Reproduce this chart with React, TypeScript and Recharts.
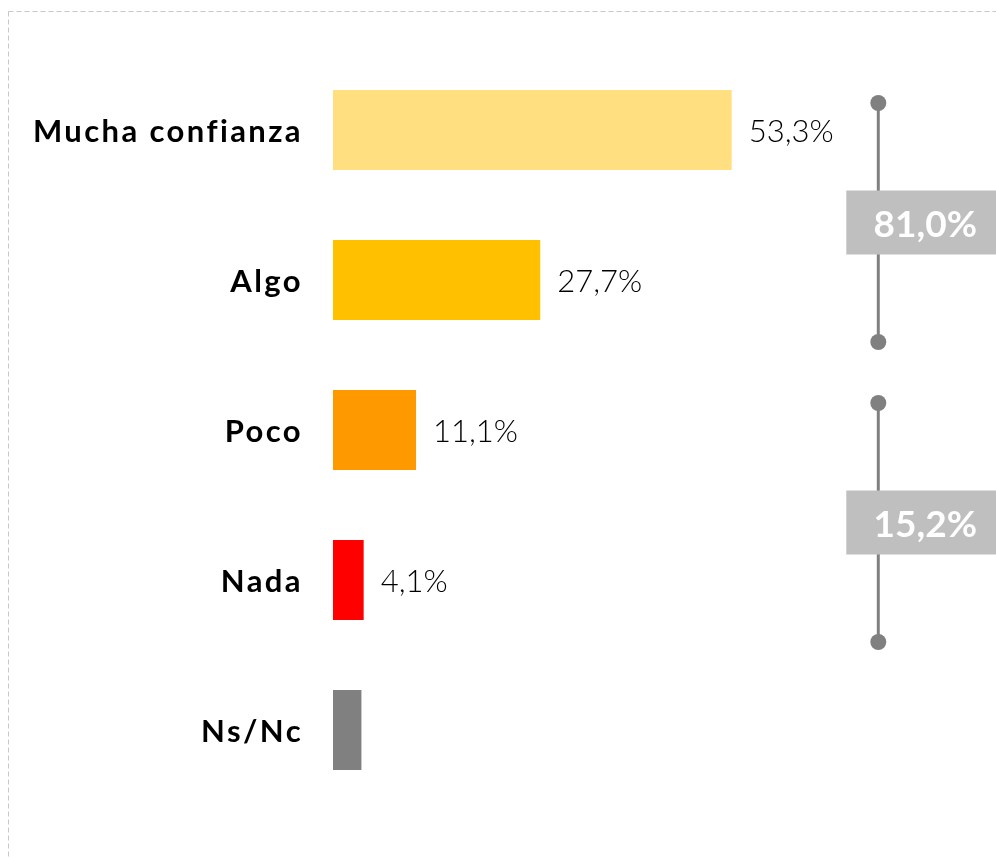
import React from "react";
import { BarChart, Bar, XAxis, YAxis, LabelList, ReferenceLine, Cell } from "recharts";

const categories = ["Mucha confianza", "Algo", "Poco", "Nada", "Ns/Nc"];
const values = [53.3, 27.7, 11.1, 4.1, 3.8];
const showValue = [true, true, true, true, false];
const colors = ["#FFDF7F", "#FFC000", "#FF9900", "#FF0000", "#808080"];

// bracket groups: summed percentages shown in grey boxes
const bracketFrom = ["Mucha confianza", "Poco"];
const bracketTo = ["Algo", "Nada"];
const bracketTotals = ["81,0%", "15,2%"];
const bracketX = 72.9;

const data = categories.map((name, i) => ({ name, value: values[i], show: showValue[i] }));

const GREY = "#808080";

const fmt = (v: number) => `${v.toFixed(1).replace(".", ",")}%`;

const CategoryTick = (props: any) => {
  const { x, y, payload } = props;
  return (
    <text
      x={x}
      y={y}
      textAnchor="end"
      dominantBaseline="central"
      fontFamily="Lato, sans-serif"
      fontWeight={700}
      fontSize={31}
      letterSpacing={2.4}
      fill="#000"
    >
      {payload.value}
    </text>
  );
};

const BracketShape = (label: string) => (props: any) => {
  const { x1, y1, y2 } = props;
  const top = y1 - 27;
  const bottom = y2 + 62;
  const mid = (top + bottom) / 2;
  return (
    <g>
      <line x1={x1} x2={x1} y1={top} y2={bottom} stroke={GREY} strokeWidth={3} />
      <circle cx={x1} cy={top} r={8} fill={GREY} />
      <circle cx={x1} cy={bottom} r={8} fill={GREY} />
      <rect x={x1 - 32} y={mid - 32} width={170} height={64} fill="#BFBFBF" />
      <text
        x={x1 + 47}
        y={mid}
        textAnchor="middle"
        dominantBaseline="central"
        fontFamily="Lato, sans-serif"
        fontWeight={700}
        fontSize={37}
        fill="#fff"
      >
        {label}
      </text>
    </g>
  );
};

export default function App() {
  return (
    <div style={{ position: "fixed", left: 8, top: 8, width: 988, height: 850, overflow: "hidden" }}>
      <svg width={988} height={850} style={{ position: "absolute", left: 0, top: 0 }}>
        <line x1={0.5} y1={3.5} x2={988} y2={3.5} stroke="#C8C8C8" strokeDasharray="5 3" />
        <line x1={0.5} y1={3.5} x2={0.5} y2={850} stroke="#C8C8C8" strokeDasharray="5 3" />
      </svg>
      <div style={{ position: "absolute", left: 0, top: 0 }}>
        <BarChart
          width={1080}
          height={850}
          data={data}
          layout="vertical"
          margin={{ top: 47, right: 7, bottom: 53, left: 25 }}
          barCategoryGap={70}
        >
          <XAxis type="number" domain={[0, 100]} hide />
          <YAxis
            type="category"
            dataKey="name"
            width={300}
            axisLine={false}
            tickLine={false}
            tick={<CategoryTick />}
            tickMargin={24}
          />
          <Bar dataKey="value" barSize={80} isAnimationActive={false}>
            {data.map((d, i) => (
              <Cell key={d.name} fill={colors[i]} />
            ))}
            <LabelList
              dataKey="value"
              position="right"
              offset={18}
              content={(p: any) => {
                const d = data[p.index];
                if (!d || !d.show) return null;
                return (
                  <text
                    x={p.x + p.width + 17}
                    y={p.y + p.height / 2}
                    dominantBaseline="central"
                    fontFamily="Lato, sans-serif"
                    fontWeight={300}
                    fontSize={31}
                    fill="#000"
                  >
                    {fmt(d.value)}
                  </text>
                );
              }}
            />
          </Bar>
          {bracketTotals.map((t, i) => (
            <ReferenceLine
              key={t}
              segment={[
                { x: bracketX, y: bracketFrom[i] },
                { x: bracketX, y: bracketTo[i] },
              ]}
              ifOverflow="visible"
              shape={BracketShape(t)}
            />
          ))}
        </BarChart>
      </div>
    </div>
  );
}
